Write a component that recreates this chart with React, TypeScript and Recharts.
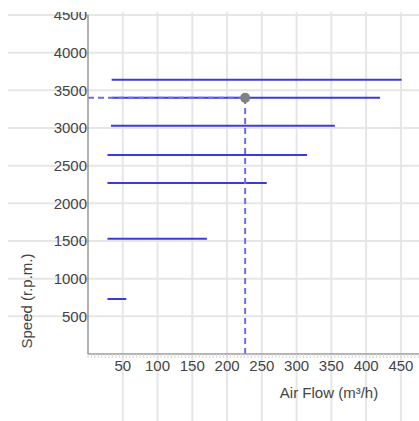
import React from "react"
import {
  ComposedChart,
  Line,
  Scatter,
  XAxis,
  YAxis,
  ReferenceLine,
} from "recharts"

// fan curves: one horizontal segment per speed step
const speeds = [3640, 3400, 3030, 2640, 2270, 1530, 730]
const flowStart = [34, 34, 33, 28, 28, 28, 28]
const flowEnd = [451, 420, 355, 315, 257, 171, 55]

// operating point
const opFlow = 226
const opSpeed = 3400

const xTicks = [50, 100, 150, 200, 250, 300, 350, 400, 450]
const yTicks = [500, 1000, 1500, 2000, 2500, 3000, 3500, 4000, 4500]

const xMinor = Array.from({ length: 96 }, (_, i) => i * 5)
const yMinor = Array.from({ length: 46 }, (_, i) => i * 100)

const FONT = "'Liberation Sans', Arial, sans-serif"
const TEXT = "#444"
const GRID = "#e6e6e6"
const CURVE = "#3c3cd4"
const GUIDE = "#6b6bf0"

export default function App() {
  return (
    <div
      style={{
        position: "fixed",
        left: 8,
        top: 12,
        width: 411,
        height: 409,
        overflow: "hidden",
        background: "#fff",
      }}
    >
      <ComposedChart width={411} height={409} margin={{ top: 3, right: 0, left: 0, bottom: 0 }}>
        <XAxis
          type="number"
          dataKey="x"
          domain={[0, 476]}
          ticks={xMinor}
          interval={0}
          tickFormatter={(v: number) => (v > 0 && v % 50 === 0 ? String(v) : "")}
          tick={{ fill: TEXT, fontSize: 15, fontFamily: FONT }}
          tickLine={{ stroke: "#d8d8d8" }}
          tickSize={4}
          tickMargin={2}
          axisLine={{ stroke: "#999", strokeWidth: 1.5 }}
          height={67}
          allowDataOverflow
          label={{
            value: "Air Flow (m³/h)",
            content: () => (
              <text x={321} y={381} textAnchor="middle" dy="0.35em" fill={TEXT} fontSize={15} fontFamily={FONT}>
                Air Flow (m³/h)
              </text>
            ),
          }}
        />
        <YAxis
          type="number"
          dataKey="y"
          domain={[0, 4500]}
          ticks={yTicks}
          interval={0}
          tick={{ fill: TEXT, fontSize: 15, fontFamily: FONT }}
          tickLine={false}
          tickSize={0}
          tickMargin={1}
          axisLine={{ stroke: "#999", strokeWidth: 1.5 }}
          width={80}
          allowDataOverflow
          label={{
            value: "Speed (r.p.m.)",
            content: () => (
              <text
                x={19}
                y={289}
                textAnchor="middle"
                dy="0.35em"
                transform="rotate(-90 19 289)"
                fill={TEXT}
                fontSize={15}
                fontFamily={FONT}
              >
                Speed (r.p.m.)
              </text>
            ),
          }}
        />
        <YAxis
          yAxisId="minor"
          type="number"
          domain={[0, 4500]}
          ticks={yMinor}
          interval={0}
          mirror
          tickFormatter={() => ""}
          tickLine={{ stroke: "#dcdcdc" }}
          tickSize={4}
          axisLine={false}
        />

        {yTicks.map((v) => (
          <ReferenceLine
            key={"h" + v}
            segment={[{ x: -200, y: v }, { x: 700, y: v }]}
            stroke={GRID}
            strokeWidth={2}
            ifOverflow="visible"
          />
        ))}
        {xTicks.map((v) => (
          <ReferenceLine
            key={"v" + v}
            segment={[{ x: v, y: -2000 }, { x: v, y: 6000 }]}
            stroke={GRID}
            strokeWidth={2}
            ifOverflow="visible"
          />
        ))}

        {speeds.map((s, i) => (
          <Line
            key={"c" + i}
            data={[
              { x: flowStart[i], y: s },
              { x: flowEnd[i], y: s },
            ]}
            dataKey="y"
            stroke={CURVE}
            strokeWidth={2}
            dot={false}
            activeDot={false}
            isAnimationActive={false}
          />
        ))}

        <ReferenceLine
          segment={[{ x: 0, y: opSpeed }, { x: opFlow, y: opSpeed }]}
          stroke={GUIDE}
          strokeWidth={2}
          strokeDasharray="6 4"
        />
        <ReferenceLine
          segment={[{ x: opFlow, y: 0 }, { x: opFlow, y: opSpeed }]}
          stroke={GUIDE}
          strokeWidth={2}
          strokeDasharray="6 4"
        />

        <Scatter
          data={[{ x: opFlow, y: opSpeed }]}
          dataKey="y"
          fill="#808080"
          shape={(p: any) => <circle cx={p.cx} cy={p.cy} r={5} fill="#808080" />}
          isAnimationActive={false}
        />
      </ComposedChart>
    </div>
  )
}
